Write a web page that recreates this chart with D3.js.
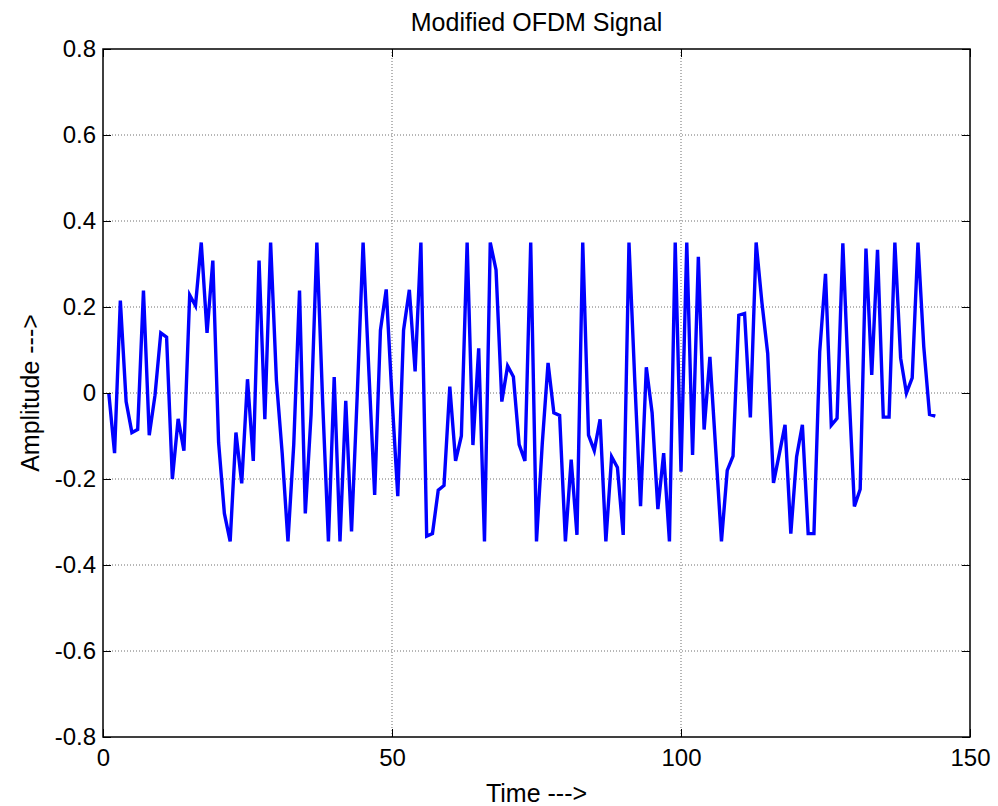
<!DOCTYPE html>
<html>
<head>
<meta charset="utf-8">
<script src="https://cdn.jsdelivr.net/npm/d3@7"></script>
<style>
  html, body { margin: 0; padding: 0; background: #fff; }
  svg { display: block; font-family: "Liberation Sans", Arial, sans-serif; }
</style>
</head>
<body>
<svg id="chart" width="998" height="806"></svg>
<script>
const titleText = "Modified OFDM Signal";
const xLabel = "Time --->";
const yLabel = "Amplitude --->";
const xTicks = [0, 50, 100, 150];
const yTicks = [-0.8, -0.6, -0.4, -0.2, 0, 0.2, 0.4, 0.6, 0.8];
const yTickLabels = ["-0.8", "-0.6", "-0.4", "-0.2", "0", "0.2", "0.4", "0.6", "0.8"];
const amplitude = [
  0, -0.14, 0.215, -0.02, -0.092, -0.085, 0.238, -0.098, -0.005, 0.14,
  0.13, -0.2, -0.06, -0.134, 0.228, 0.203, 0.35, 0.14, 0.308, -0.115,
  -0.28, -0.345, -0.092, -0.21, 0.032, -0.158, 0.308, -0.061, 0.35, 0.03,
  -0.14, -0.345, -0.12, 0.238, -0.28, -0.05, 0.35, -0.02, -0.345, 0.037,
  -0.345, -0.018, -0.322, 0.0, 0.35, 0.05, -0.237, 0.146, 0.241, -0.01,
  -0.24, 0.146, 0.24, 0.05, 0.35, -0.333, -0.327, -0.226, -0.215, 0.015,
  -0.158, -0.1, 0.35, -0.121, 0.104, -0.345, 0.35, 0.286, -0.02, 0.063,
  0.038, -0.12, -0.158, 0.35, -0.345, -0.117, 0.07, -0.046, -0.052, -0.345,
  -0.155, -0.33, 0.35, -0.098, -0.134, -0.061, -0.345, -0.148, -0.173, -0.33,
  0.35, 0.03, -0.263, 0.06, -0.046, -0.27, -0.14, -0.345, 0.35, -0.183,
  0.35, -0.144, 0.317, -0.085, 0.084, -0.13, -0.345, -0.18, -0.147, 0.181,
  0.185, -0.057, 0.35, 0.21, 0.092, -0.209, -0.142, -0.074, -0.327, -0.148,
  -0.074, -0.327, -0.327, 0.096, 0.277, -0.075, -0.059, 0.348, 0.02, -0.264,
  -0.224, 0.336, 0.042, 0.333, -0.056, -0.056, 0.35, 0.081, 0.0, 0.035,
  0.35, 0.108, -0.05, -0.054
];
const timeIdx = amplitude.map((_, i) => i + 1);

const svg = d3.select("#chart");
const L = 103, R = 970, T = 49, B = 737;
const x = d3.scaleLinear().domain([0, 150]).range([L, R]);
const y = d3.scaleLinear().domain([-0.8, 0.8]).range([B, T]);

// grid
const grid = svg.append("g");
grid.selectAll("line.gx").data(xTicks.slice(1, -1)).enter().append("line")
  .attr("x1", d => x(d)).attr("x2", d => x(d)).attr("y1", T).attr("y2", B)
  .attr("stroke", "#6e6e6e").attr("stroke-width", 1).attr("stroke-dasharray", "1,2");
grid.selectAll("line.gy").data(yTicks.slice(1, -1)).enter().append("line")
  .attr("y1", d => y(d)).attr("y2", d => y(d)).attr("x1", L).attr("x2", R)
  .attr("stroke", "#6e6e6e").attr("stroke-width", 1).attr("stroke-dasharray", "1,2");

// data line
const line = d3.line().x((d, i) => x(timeIdx[i])).y(d => y(d));
svg.append("path").datum(amplitude)
  .attr("d", line).attr("fill", "none")
  .attr("stroke", "#0000ff").attr("stroke-width", 3.4).attr("stroke-linejoin", "miter");

// axes
const tickLen = 8;
const fmt = d => yTickLabels[yTicks.findIndex(v => Math.abs(v - d) < 1e-9)];
const gBottom = svg.append("g").attr("transform", `translate(0,${B})`)
  .call(d3.axisBottom(x).tickValues(xTicks).tickSize(-tickLen).tickPadding(12).tickFormat(d3.format("d")));
const gTop = svg.append("g").attr("transform", `translate(0,${T})`)
  .call(d3.axisTop(x).tickValues(xTicks).tickSize(-tickLen).tickFormat(""));
const gLeft = svg.append("g").attr("transform", `translate(${L},0)`)
  .call(d3.axisLeft(y).tickValues(yTicks).tickSize(-tickLen).tickPadding(7).tickFormat(fmt));
const gRight = svg.append("g").attr("transform", `translate(${R},0)`)
  .call(d3.axisRight(y).tickValues(yTicks).tickSize(-tickLen).tickFormat(""));
[gBottom, gTop, gLeft, gRight].forEach(g => {
  g.select(".domain").remove();
  g.selectAll(".tick line").attr("stroke", "#000").attr("stroke-width", 1);
  g.selectAll("text").attr("fill", "#000").style("font-size", "24px")
    .style("font-family", '"Liberation Sans", Arial, sans-serif');
});

svg.append("rect").attr("x", L).attr("y", T).attr("width", R - L).attr("height", B - T)
  .attr("fill", "none").attr("stroke", "#000").attr("stroke-width", 1.5);

// titles
svg.append("text").attr("x", (L + R) / 2).attr("y", 31).attr("text-anchor", "middle")
  .style("font-size", "25px").text(titleText);
svg.append("text").attr("x", (L + R) / 2).attr("y", 802).attr("text-anchor", "middle")
  .style("font-size", "25px").text(xLabel);
svg.append("text").attr("transform", `translate(39,${(T + B) / 2}) rotate(-90)`)
  .attr("text-anchor", "middle").style("font-size", "25px").text(yLabel);
</script>
</body>
</html>
